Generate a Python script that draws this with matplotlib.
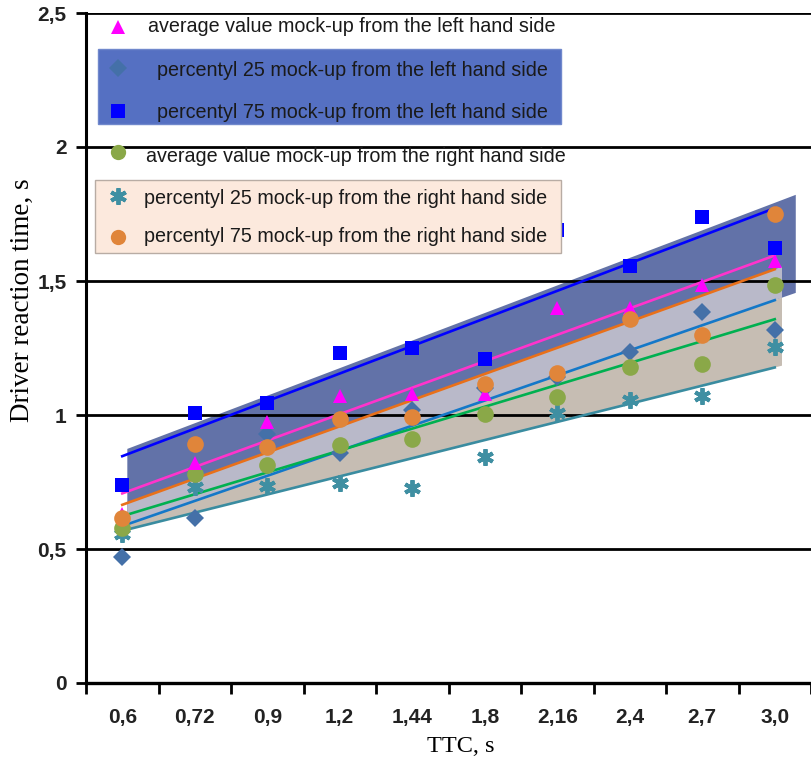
import numpy as np
import matplotlib
matplotlib.use("Agg")
import matplotlib.pyplot as plt
from matplotlib.patches import Polygon, Rectangle

# ---------------- data ----------------
ttc_labels = ["0,6", "0,72", "0,9", "1,2", "1,44", "1,8", "2,16", "2,4", "2,7", "3,0"]
avg_left = [0.63, 0.82, 0.975, 1.07, 1.078, 1.08, 1.40, 1.40, 1.485, 1.575]
p25_left = [0.47, 0.615, 0.93, 0.86, 1.02, 1.10, 1.14, 1.235, 1.384, 1.317]
p75_left = [0.74, 1.007, 1.045, 1.23, 1.25, 1.21, 1.69, 1.556, 1.739, 1.623]
avg_right = [0.58, 0.78, 0.815, 0.888, 0.91, 1.005, 1.067, 1.18, 1.19, 1.485]
p25_right = [0.556, 0.73, 0.735, 0.746, 0.728, 0.843, 1.007, 1.056, 1.071, 1.254]
p75_right = [0.615, 0.89, 0.88, 0.985, 0.993, 1.115, 1.157, 1.358, 1.30, 1.75]
y_ticks = [0, 0.5, 1, 1.5, 2, 2.5]
y_tick_labels = ["0", "0,5", "1", "1,5", "2", "2,5"]
legend_labels = [
    "average value mock-up from the left hand side",
    "percentyl 25 mock-up from the left hand side",
    "percentyl 75 mock-up from the left hand side",
    "average value mock-up from the right hand side",
    "percentyl 25 mock-up from the right hand side",
    "percentyl 75 mock-up from the right hand side",
]

SANS = ["Liberation Sans", "DejaVu Sans"]
SERIF = ["Liberation Serif", "DejaVu Serif"]

W, H = 811, 765
fig = plt.figure(figsize=(W / 100, H / 100), dpi=100)
L, R, T, B = 86, 811, 13, 683
ax = fig.add_axes([L / W, 1 - B / H, (R - L) / W, (B - T) / H])

x = np.arange(len(ttc_labels))
ax.set_xlim(-0.5, len(ttc_labels) - 0.5)
ax.set_ylim(0, 2.5)

def fit(vals):
    k, b = np.polyfit(x, vals, 1)
    return lambda t: k * np.asarray(t) + b

f_al, f_p25l, f_p75l = fit(avg_left), fit(p25_left), fit(p75_left)
f_ar, f_p25r, f_p75r = fit(avg_right), fit(p25_right), fit(p75_right)

# ---------------- shaded bands ----------------
x0, x1, x2 = 0.07, 9.10, 9.29
def band(xa, xb, top, bot, color, z):
    pts = [(xa, top(xa)), (xb, top(xb)), (xb, bot(xb)), (xa, bot(xa))]
    ax.add_patch(Polygon(pts, closed=True, facecolor=color, edgecolor="none", zorder=z))

band(x0, x2, lambda t: f_p75l(t) + 0.02, f_p25l, "#6272a8", 1)
band(x0, x1, f_p75r, f_p25l, "#b9b9c9", 1.1)
band(x0, x1, f_p25l, f_p25r, "#c6bdb3", 1.1)

# ---------------- grid ----------------
for yv in y_ticks[1:]:
    ax.axhline(yv, color="black", lw=2.0, zorder=2)

# ---------------- trend lines ----------------
xl = np.array([0, 9])
ax.plot(xl, f_p75l(xl), color="#0000ff", lw=1.9, zorder=3)
ax.plot(xl, f_al(xl), color="#ff33cc", lw=1.9, zorder=3)
ax.plot(xl, f_p75r(xl), color="#e8701a", lw=1.9, zorder=3)
ax.plot(xl, f_p25l(xl), color="#1478c8", lw=1.9, zorder=3)
ax.plot(xl, f_ar(xl), color="#00b050", lw=1.9, zorder=3)
ax.plot(xl, f_p25r(xl), color="#3a8ca0", lw=1.9, zorder=3)

# ---------------- markers ----------------
STY = {
    "al": dict(marker="^", color="#ff00ff", ms=10, mew=0),
    "p25l": dict(marker="D", color="#4470a8", ms=9, mew=0),
    "p75l": dict(marker="s", color="#0000ff", ms=10, mew=0),
    "ar": dict(marker="o", color="#8aa848", ms=12, mew=0),
    "p25r": dict(marker=(6, 2, 0), color="#3f8fa2", ms=12, mew=2.8),
    "p75r": dict(marker="o", color="#e0853a", ms=12, mew=0),
}
ax.plot(x, p25_right, ls="none", zorder=4, **STY["p25r"])
ax.plot(x, p25_left, ls="none", zorder=4, **STY["p25l"])
ax.plot(x, avg_right, ls="none", zorder=4, **STY["ar"])
ax.plot(x, avg_left, ls="none", zorder=4, **STY["al"])
ax.plot(x, p75_right, ls="none", zorder=4, **STY["p75r"])
ax.plot(x, p75_left, ls="none", zorder=4, **STY["p75l"])

# ---------------- axes styling ----------------
for s in ["top", "right"]:
    ax.spines[s].set_visible(False)
ax.spines["left"].set_linewidth(2.2)
ax.spines["bottom"].set_linewidth(2.4)
ax.spines["left"].set_zorder(6)
ax.spines["bottom"].set_zorder(6)

ax.set_yticks(y_ticks)
ax.set_yticklabels(y_tick_labels)
ax.set_xticks(np.arange(-0.5, len(ttc_labels)), minor=False)
ax.set_xticklabels([])
ax.set_xticks(x, minor=True)
ax.set_xticklabels(ttc_labels, minor=True)
ax.tick_params(axis="x", which="major", direction="out", length=8, width=2)
ax.tick_params(axis="x", which="minor", length=0, pad=18)
ax.tick_params(axis="y", direction="out", length=7, width=2, pad=7)
for lab in ax.get_xticklabels(minor=True) + ax.get_yticklabels():
    lab.set_fontfamily(SANS)
    lab.set_fontsize(15)
    lab.set_fontweight("bold")
    lab.set_color("#222222")

fig.text(22 / W, 1 - 300 / H, "Driver reaction time, s", rotation=90,
         ha="center", va="center", fontsize=19.5, family=SERIF)
fig.text(461 / W, 1 - 747 / H, "TTC, s", ha="center", va="center",
         fontsize=17.5, family=SERIF)

# ---------------- legend (manual) ----------------
def fx(px):
    return (px - L) / (R - L)
def fy(py):
    return (B - py) / (B - T)

ax.add_patch(Rectangle((fx(98), fy(124)), fx(561) - fx(98), fy(49) - fy(124),
                       transform=ax.transAxes, facecolor="#5570c2", edgecolor="#7088cc",
                       lw=1, zorder=7))
ax.add_patch(Rectangle((fx(95), fy(253)), fx(561) - fx(95), fy(180) - fy(253),
                       transform=ax.transAxes, facecolor="#fce9dd", edgecolor="#b8aca4",
                       lw=1, zorder=7))

items = [
    ("al", 27, 148, 27),
    ("p25l", 68, 157, 71),
    ("p75l", 111, 157, 112),
    ("ar", 152, 146, 156),
    ("p25r", 196, 144, 198),
    ("p75r", 237, 144, 236),
]
for (key, my, tx, ty), text in zip(items, legend_labels):
    st = dict(STY[key])
    if key in ("ar", "p75r"):
        st["ms"] = 11
    ax.plot([fx(118)], [fy(my)], transform=ax.transAxes, ls="none", zorder=8,
            clip_on=False, **st)
    ax.text(fx(tx), fy(ty), text, transform=ax.transAxes, ha="left", va="center",
            fontsize=14.2, family=SANS, color="#1a1a1a", zorder=8)

fig.savefig("out.png", dpi=100)
